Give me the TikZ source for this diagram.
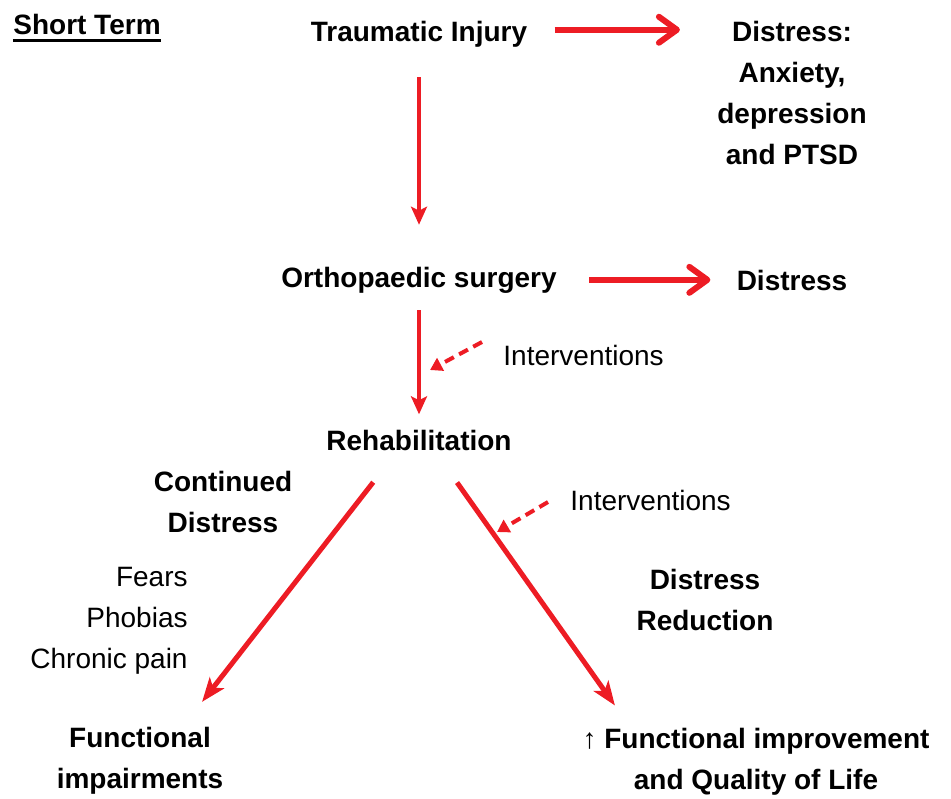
\documentclass[tikz,border=0pt]{standalone}
\usepackage{fontspec}
\setmainfont{Liberation Sans}
\usetikzlibrary{arrows.meta}
\definecolor{arrowred}{RGB}{237,28,36}
\tikzset{
  lbl/.style={inner sep=0pt, align=center, font=\fontsize{14}{20.5}\selectfont},
  boldlbl/.style={lbl, font=\fontsize{14}{20.5}\selectfont\bfseries},
  sidearrow/.style={draw=arrowred, line width=3pt, -{Straight Barb[round,length=9pt,width=13pt]}},
  downarrow/.style={draw=arrowred, line width=2pt, -{Stealth[length=9pt,width=8pt,inset=2pt]}},
  diagarrow/.style={draw=arrowred, line width=2.5pt, -{Stealth[length=12pt,width=9pt,inset=3pt]}},
  dasharrow/.style={draw=arrowred, line width=2pt, dash pattern=on 5pt off 3pt, -{Triangle[length=6pt,width=7pt]}}
}
\begin{document}
\begin{tikzpicture}[x=0.5pt,y=-0.5pt]
\useasboundingbox (0,0) rectangle (951,798);

% top row (base = last line)
\node[boldlbl, anchor=base] (short) at (87,34) {Short Term};
\draw[line width=1.5pt] ([yshift=-3pt]short.base west) -- ([yshift=-3pt]short.base east);
\node[boldlbl, anchor=base] (trauma) at (419,41) {Traumatic Injury};
\node[boldlbl, anchor=base] (distressA) at (792,164) {Distress:\\Anxiety,\\depression\\and PTSD};

% middle
\node[boldlbl, anchor=base] (ortho) at (419,287) {Orthopaedic surgery};
\node[boldlbl, anchor=base] (distressB) at (792,290) {Distress};
\node[lbl, anchor=base west] (interA) at (503,365) {Interventions};
\node[boldlbl, anchor=base] (rehab) at (419,450) {Rehabilitation};

% lower left
\node[boldlbl, anchor=base] (contd) at (223,532) {Continued\\Distress};
\node[lbl, align=right, anchor=base east] (fears) at (188,668) {Fears\\Phobias\\Chronic pain};
\node[boldlbl, anchor=base] (fimp) at (140,788) {Functional\\impairments};

% lower right
\node[lbl, anchor=base west] (interB) at (570,510) {Interventions};
\node[boldlbl, anchor=base] (reduct) at (705,630) {Distress\\Reduction};
\node[boldlbl, anchor=base] (fimpro) at (756,789) {{\mdseries\textuparrow} Functional improvement\\and Quality of Life};

% arrows
\draw[sidearrow, shorten <=13.5pt, shorten >=18.5pt] ([yshift=2pt]trauma.east) -- ([yshift=2pt]trauma.east -| distressA.west);
\draw[sidearrow, shorten <=16pt, shorten >=13pt] ([yshift=0pt]ortho.east) -- ([yshift=0pt]ortho.east -| distressB.west);
\draw[downarrow, shorten <=15pt, shorten >=20.8pt] (trauma.south) -- (ortho.north);
\draw[downarrow, shorten <=8.5pt, shorten >=7.5pt] (ortho.south) -- (rehab.north);
\draw[diagarrow, shorten <=20pt, shorten >=15.5pt] ([xshift=-10.6pt]rehab.south) -- ([xshift=21.5pt]fimp.north);
\draw[diagarrow, shorten <=19.5pt, shorten >=13.4pt] ([xshift=7.75pt]rehab.south) -- ([xshift=-62.8pt]fimpro.north);

% interventions
\coordinate (dashA) at (482,342);
\coordinate (hitA) at (430,370);
\coordinate (dashB) at (548,502);
\coordinate (hitB) at (497,532);
\draw[dasharrow] (dashA) -- (hitA);
\draw[dasharrow] (dashB) -- (hitB);
\end{tikzpicture}
\end{document}
